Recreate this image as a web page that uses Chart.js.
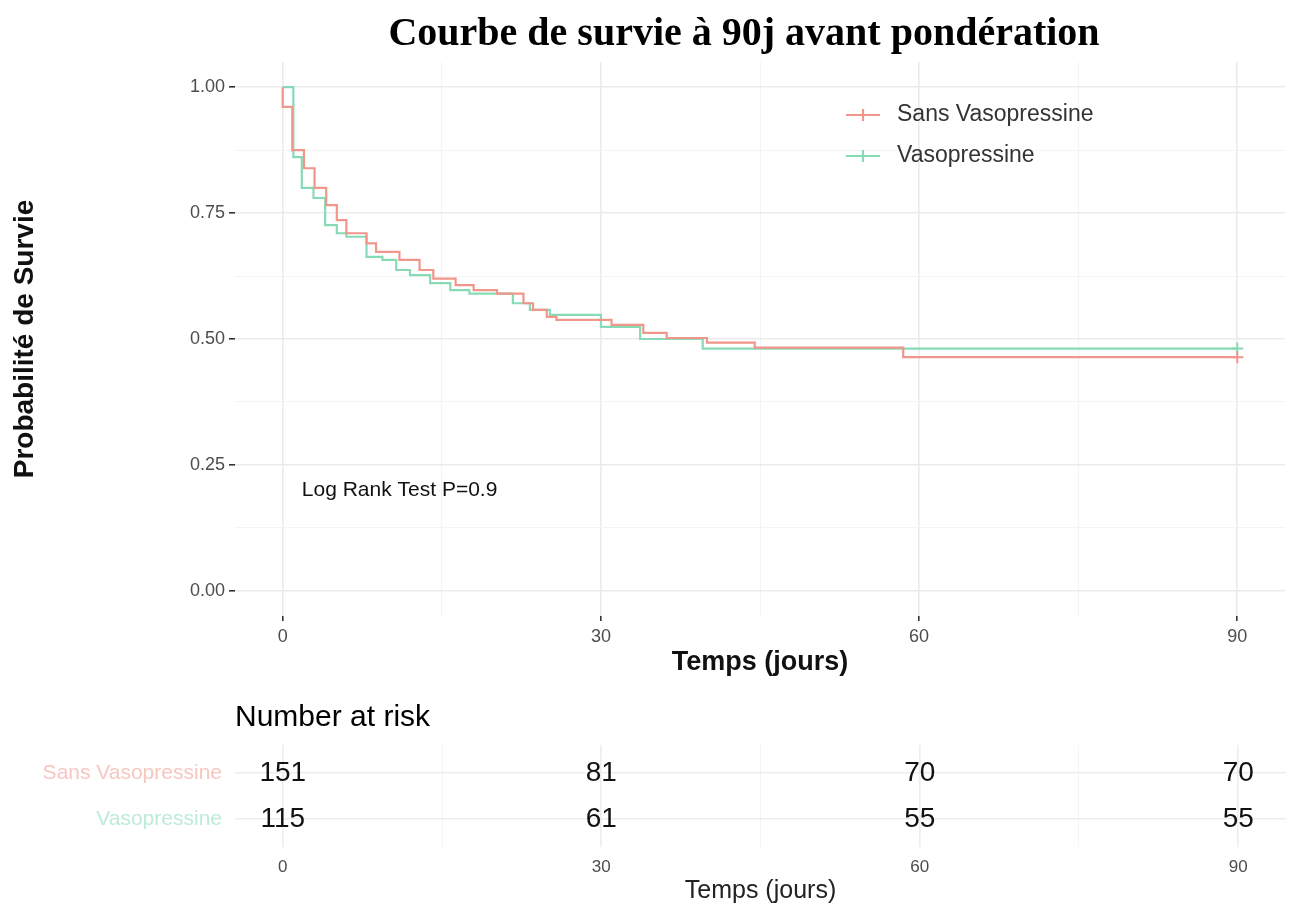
<!DOCTYPE html>
<html>
<head>
<meta charset="utf-8">
<script src="https://cdn.jsdelivr.net/npm/chart.js@4.4.1/dist/chart.umd.min.js"></script>
<style>
  body { margin: 0; background: #fff; width: 1293px; height: 909px; position: relative; overflow: hidden; }
  #main { position: absolute; left: 0; top: 0; }
  #risk { position: absolute; left: 0; top: 690px; }
</style>
</head>
<body>
<canvas id="main" width="1293" height="690"></canvas>
<canvas id="risk" width="1293" height="219"></canvas>
<script>
// données
const titre = 'Courbe de survie à 90j avant pondération';
const groupes = ['Sans Vasopressine', 'Vasopressine'];
const couleurs = ['#F1968B', '#86DBB6'];
const couleursPales = ['#F6C6BF', '#BDEBD7'];

const xTicks = [0, 15, 30, 45, 60, 75, 90];
const yTicks = [0, 0.125, 0.25, 0.375, 0.5, 0.625, 0.75, 0.875, 1];

const sansTemps = [0, 0, 0.9, 2.0, 3.0, 4.1, 5.1, 6.0, 7.9, 8.8, 11.0, 12.9, 14.2, 16.3, 18.0, 20.2, 22.7, 23.6, 24.9, 25.8, 31.0, 34.0, 36.2, 40.0, 44.5, 58.5, 90];
const sansSurvie = [1.0, 0.961, 0.875, 0.839, 0.80, 0.766, 0.736, 0.71, 0.69, 0.673, 0.657, 0.637, 0.62, 0.607, 0.597, 0.59, 0.571, 0.558, 0.544, 0.538, 0.528, 0.512, 0.502, 0.493, 0.483, 0.464, 0.464];

const vasoTemps = [0, 1.0, 1.8, 2.9, 4.0, 5.1, 6.0, 7.9, 9.4, 10.7, 12.0, 13.9, 15.8, 17.6, 21.7, 23.3, 25.2, 30.0, 33.7, 39.6, 90];
const vasoSurvie = [1.0, 0.861, 0.80, 0.78, 0.726, 0.71, 0.703, 0.663, 0.657, 0.637, 0.627, 0.611, 0.597, 0.59, 0.571, 0.558, 0.548, 0.524, 0.50, 0.481, 0.481];

const logRank = 'Log Rank Test P=0.9';
const logRankX = 1.8;
const logRankY = 0.2;

const riskTemps = [0, 30, 60, 90];
const riskSans = [151, 81, 70, 70];
const riskVaso = [115, 61, 55, 55];

const SANS = '"Liberation Sans", Arial, sans-serif';
const SERIF = '"Liberation Serif", "Times New Roman", serif';

const isMajorX = v => v % 30 === 0;
const isMajorY = v => Math.abs(v * 4 - Math.round(v * 4)) < 1e-9;

function toPoints(temps, survie) {
    return temps.map((t, i) => ({ x: t, y: survie[i] }));
}

function kmDataset(label, temps, survie, couleur) {
    const last = temps.length - 1;
    return {
        label: label,
        data: toPoints(temps, survie),
        stepped: true,
        borderColor: couleur,
        backgroundColor: couleur,
        borderWidth: 2.2,
        fill: false,
        pointStyle: 'cross',
        pointRadius: ctx => ctx.dataIndex === last ? 6 : 0,
        pointBorderColor: couleur,
        pointBorderWidth: 2
    };
}

const decor = {
    id: 'decor',
    afterDraw(chart) {
        const ctx = chart.ctx;
        const { x, y } = chart.scales;
        ctx.save();
        // titre
        ctx.fillStyle = '#000';
        ctx.font = 'bold 40px ' + SERIF;
        ctx.textAlign = 'center';
        ctx.textBaseline = 'alphabetic';
        ctx.fillText(titre, 744, 45);
        // log rank
        ctx.fillStyle = '#111';
        ctx.font = '21px ' + SANS;
        ctx.textAlign = 'left';
        ctx.textBaseline = 'middle';
        ctx.fillText(logRank, x.getPixelForValue(logRankX), y.getPixelForValue(logRankY));
        // légende
        groupes.forEach((g, i) => {
            const ly = 115 + i * 41;
            ctx.strokeStyle = couleurs[i];
            ctx.lineWidth = 2.2;
            ctx.beginPath();
            ctx.moveTo(846, ly); ctx.lineTo(880, ly);
            ctx.moveTo(863, ly - 6); ctx.lineTo(863, ly + 6);
            ctx.stroke();
            ctx.fillStyle = '#333';
            ctx.font = '23px ' + SANS;
            ctx.fillText(g, 897, ly);
        });
        ctx.restore();
    }
};

new Chart(document.getElementById('main'), {
    type: 'line',
    data: {
        datasets: [
            kmDataset(groupes[0], sansTemps, sansSurvie, couleurs[0]),
            kmDataset(groupes[1], vasoTemps, vasoSurvie, couleurs[1])
        ]
    },
    options: {
        responsive: false,
        animation: false,
        layout: { padding: { top: 62, right: 7, left: 0, bottom: 0 } },
        plugins: { legend: { display: false }, tooltip: { enabled: false } },
        scales: {
            x: {
                type: 'linear',
                min: -4.5,
                max: 94.5,
                afterBuildTicks: s => { s.ticks = xTicks.map(v => ({ value: v })); },
                afterFit: s => { s.height = 74; },
                ticks: {
                    autoSkip: false,
                    maxRotation: 0,
                    callback: v => isMajorX(v) ? String(v) : '',
                    color: '#4D4D4D',
                    font: { family: SANS, size: 18 },
                    padding: 5
                },
                grid: {
                    color: ctx => isMajorX(ctx.tick.value) ? '#EBEBEB' : '#F4F4F4',
                    lineWidth: ctx => isMajorX(ctx.tick.value) ? 1.6 : 1,
                    tickLength: 5,
                    tickColor: ctx => isMajorX(ctx.tick.value) ? '#333' : 'rgba(0,0,0,0)'
                },
                border: { display: false },
                title: {
                    display: true,
                    text: 'Temps (jours)',
                    color: '#111',
                    font: { family: SANS, size: 27, weight: 'bold' },
                    padding: { top: 0, bottom: 11 }
                }
            },
            y: {
                type: 'linear',
                min: -0.05,
                max: 1.05,
                afterBuildTicks: s => { s.ticks = yTicks.map(v => ({ value: v })); },
                afterFit: s => { s.width = 235; },
                ticks: {
                    autoSkip: false,
                    callback: v => isMajorY(v) ? v.toFixed(2) : '',
                    color: '#4D4D4D',
                    font: { family: SANS, size: 18 },
                    padding: 4
                },
                grid: {
                    color: ctx => isMajorY(ctx.tick.value) ? '#EBEBEB' : '#F4F4F4',
                    lineWidth: ctx => isMajorY(ctx.tick.value) ? 1.6 : 1,
                    tickLength: 6,
                    tickColor: ctx => isMajorY(ctx.tick.value) ? '#333' : 'rgba(0,0,0,0)'
                },
                border: { display: false },
                title: {
                    display: true,
                    text: 'Probabilité de Survie',
                    color: '#111',
                    font: { family: SANS, size: 28, weight: 'bold' },
                    padding: { top: 8, bottom: 0 }
                }
            }
        }
    },
    plugins: [decor]
});

// tableau des effectifs à risque
const nombres = {
    id: 'nombres',
    afterDatasetsDraw(chart) {
        const ctx = chart.ctx;
        const valeurs = [riskSans, riskVaso];
        ctx.save();
        ctx.fillStyle = '#111';
        ctx.font = '28px ' + SANS;
        ctx.textAlign = 'center';
        ctx.textBaseline = 'middle';
        chart.data.datasets.forEach((ds, i) => {
            chart.getDatasetMeta(i).data.forEach((pt, j) => {
                ctx.fillText(String(valeurs[i][j]), pt.x, pt.y);
            });
        });
        ctx.fillStyle = '#000';
        ctx.font = '30px ' + SANS;
        ctx.textAlign = 'left';
        ctx.fillText('Number at risk', 235, 28);
        ctx.restore();
    }
};

new Chart(document.getElementById('risk'), {
    type: 'scatter',
    data: {
        datasets: [
            { label: groupes[0], data: riskTemps.map(t => ({ x: t, y: 2 })), pointRadius: 0 },
            { label: groupes[1], data: riskTemps.map(t => ({ x: t, y: 1 })), pointRadius: 0 }
        ]
    },
    options: {
        responsive: false,
        animation: false,
        layout: { padding: { top: 55, right: 7, left: 0, bottom: 0 } },
        plugins: { legend: { display: false }, tooltip: { enabled: false } },
        scales: {
            x: {
                type: 'linear',
                min: -4.5,
                max: 94.5,
                afterBuildTicks: s => { s.ticks = xTicks.map(v => ({ value: v })); },
                afterFit: s => { s.height = 62; },
                ticks: {
                    autoSkip: false,
                    maxRotation: 0,
                    callback: v => isMajorX(v) ? String(v) : '',
                    color: '#4D4D4D',
                    font: { family: SANS, size: 17 },
                    padding: 10
                },
                grid: {
                    color: ctx => isMajorX(ctx.tick.value) ? '#EDEDED' : '#F5F5F5',
                    lineWidth: ctx => isMajorX(ctx.tick.value) ? 1.6 : 1,
                    drawTicks: false
                },
                border: { display: false },
                title: {
                    display: true,
                    text: 'Temps (jours)',
                    color: '#222',
                    font: { family: SANS, size: 25 },
                    padding: { top: 0, bottom: 3 }
                }
            },
            y: {
                type: 'linear',
                min: 0.4,
                max: 2.6,
                afterBuildTicks: s => { s.ticks = [1, 2].map(v => ({ value: v })); },
                afterFit: s => { s.width = 235; },
                ticks: {
                    callback: v => v === 2 ? groupes[0] : groupes[1],
                    color: ctx => ctx.tick.value === 2 ? couleursPales[0] : couleursPales[1],
                    font: { family: SANS, size: 21 },
                    padding: 13
                },
                grid: { color: '#EDEDED', lineWidth: 1.6, drawTicks: false },
                border: { display: false }
            }
        }
    },
    plugins: [nombres]
});
</script>
</body>
</html>
